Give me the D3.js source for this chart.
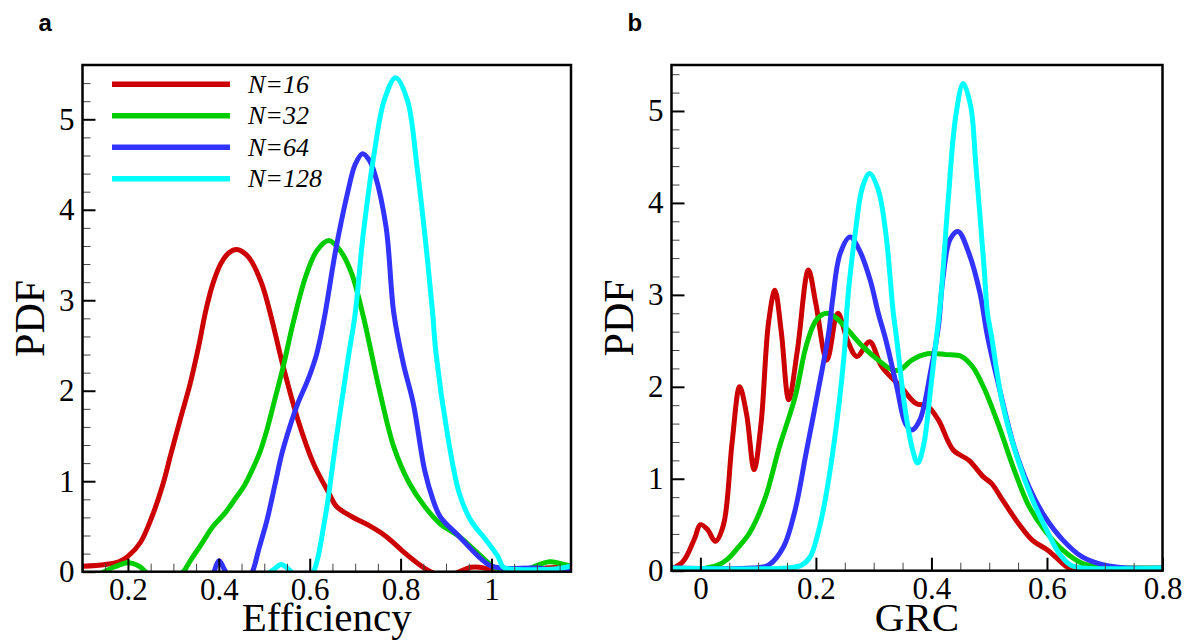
<!DOCTYPE html>
<html>
<head>
<meta charset="utf-8">
<script src="https://cdn.jsdelivr.net/npm/d3@7"></script>
<style>
  body { margin: 0; background: #fff; }
  .tick text { font-family: "Liberation Serif", "Times New Roman", serif; font-size: 31px; fill: #000; }
</style>
</head>
<body>
<div id="chart"></div>
<script type="text/javascript">

// series names + colours
var seriesNames = ["N=16", "N=32", "N=64", "N=128"];
var seriesColors = ["#cc0000", "#00cc00", "#3333ff", "#00ffff"];

// panel a : Efficiency pdf, [efficiency, pdf]
var eff16 = [[0.1,0.06],[0.15,0.08],[0.18,0.11],[0.2,0.17],[0.227,0.32],[0.253,0.61],[0.276,0.95],[0.295,1.31],[0.316,1.70],[0.337,2.08],[0.356,2.5],[0.372,2.9],[0.388,3.2],[0.405,3.41],[0.421,3.52],[0.439,3.56],[0.454,3.53],[0.468,3.46],[0.494,3.19],[0.515,2.82],[0.54,2.30],[0.574,1.68],[0.608,1.20],[0.642,0.87],[0.659,0.72],[0.692,0.61],[0.734,0.50],[0.768,0.39],[0.811,0.20],[0.841,0.08],[0.866,0.0],[0.9,-0.05],[0.93,0.0],[0.955,0.05],[0.985,0.04],[1.02,-0.03],[1.08,-0.03],[1.12,0.04],[1.175,0.04]];
var eff32 = [[0.13,-0.05],[0.16,0.03],[0.2,0.1],[0.225,0.06],[0.25,-0.05],[0.3,-0.1],[0.322,0.0],[0.337,0.12],[0.361,0.3],[0.387,0.50],[0.414,0.65],[0.438,0.82],[0.456,0.95],[0.473,1.12],[0.491,1.33],[0.506,1.57],[0.523,1.9],[0.54,2.23],[0.565,2.78],[0.591,3.26],[0.616,3.55],[0.642,3.66],[0.667,3.55],[0.692,3.30],[0.718,2.82],[0.752,2.04],[0.785,1.38],[0.819,0.98],[0.853,0.72],[0.887,0.53],[0.929,0.39],[0.971,0.20],[1.005,0.05],[1.04,-0.02],[1.08,0.03],[1.128,0.11],[1.16,0.08],[1.175,0.06]];
var eff64 = [[0.385,-0.1],[0.4,0.12],[0.415,0.0],[0.43,-0.1],[0.46,-0.1],[0.474,0.0],[0.488,0.25],[0.506,0.57],[0.523,0.95],[0.539,1.31],[0.556,1.6],[0.573,1.85],[0.596,2.12],[0.615,2.4],[0.632,2.80],[0.657,3.55],[0.683,4.18],[0.7,4.5],[0.716,4.62],[0.731,4.55],[0.743,4.40],[0.768,3.81],[0.785,2.86],[0.806,2.3],[0.828,1.86],[0.853,1.12],[0.871,0.8],[0.887,0.61],[0.929,0.39],[0.971,0.17],[0.996,0.07],[1.02,0.04],[1.1,0.04],[1.13,0.02],[1.175,0.02]];
var eff128 = [[0.5,-0.05],[0.52,0.02],[0.537,0.08],[0.555,0.02],[0.572,-0.05],[0.595,-0.05],[0.608,0.0],[0.633,0.57],[0.659,1.49],[0.684,2.34],[0.7,2.85],[0.718,3.74],[0.743,4.66],[0.764,5.21],[0.789,5.46],[0.815,5.21],[0.836,4.48],[0.853,3.74],[0.87,2.89],[0.878,2.41],[0.904,1.49],[0.929,0.87],[0.954,0.57],[0.988,0.35],[1.014,0.17],[1.026,0.05],[1.04,0.03],[1.14,0.03],[1.175,0.06]];

// panel b : GRC pdf, [grc, pdf]
var grc16 = [[-0.05,0.02],[-0.03,0.1],[-0.01,0.35],[0.0,0.5],[0.012,0.45],[0.026,0.32],[0.04,0.5],[0.055,1.4],[0.068,2.0],[0.08,1.7],[0.093,1.1],[0.105,1.6],[0.118,2.7],[0.129,3.05],[0.14,2.6],[0.153,1.86],[0.168,2.4],[0.187,3.27],[0.2,2.9],[0.219,2.29],[0.238,2.8],[0.255,2.5],[0.271,2.33],[0.293,2.49],[0.314,2.22],[0.347,2.0],[0.373,1.82],[0.393,1.79],[0.412,1.64],[0.438,1.31],[0.465,1.20],[0.49,1.02],[0.504,0.95],[0.523,0.77],[0.55,0.52],[0.575,0.33],[0.602,0.22],[0.635,0.04],[0.65,0.0],[0.7,-0.05],[0.8,-0.05]];
var grc32 = [[-0.05,0.02],[0.0,0.02],[0.03,0.06],[0.046,0.12],[0.065,0.25],[0.085,0.41],[0.111,0.77],[0.137,1.35],[0.164,1.89],[0.183,2.44],[0.2,2.72],[0.218,2.8],[0.235,2.75],[0.255,2.62],[0.281,2.44],[0.308,2.29],[0.334,2.18],[0.347,2.19],[0.366,2.29],[0.393,2.36],[0.425,2.35],[0.452,2.33],[0.471,2.22],[0.49,2.0],[0.517,1.57],[0.543,1.10],[0.569,0.70],[0.596,0.44],[0.628,0.22],[0.661,0.08],[0.694,0.04],[0.75,0.03],[0.8,0.03]];
var grc64 = [[-0.05,0.03],[0.09,0.03],[0.118,0.06],[0.144,0.26],[0.164,0.66],[0.183,1.28],[0.203,1.93],[0.222,2.58],[0.229,2.95],[0.242,3.45],[0.259,3.63],[0.275,3.49],[0.294,3.16],[0.308,2.80],[0.321,2.51],[0.34,2.0],[0.355,1.6],[0.366,1.53],[0.38,1.64],[0.399,2.18],[0.412,2.65],[0.419,3.13],[0.432,3.60],[0.446,3.69],[0.465,3.45],[0.484,3.02],[0.497,2.55],[0.517,2.0],[0.543,1.35],[0.569,0.91],[0.596,0.59],[0.628,0.33],[0.661,0.15],[0.7,0.06],[0.739,0.03],[0.8,0.03]];
var grc128 = [[-0.05,0.03],[0.15,0.03],[0.175,0.06],[0.19,0.15],[0.209,0.55],[0.229,1.28],[0.249,2.36],[0.255,2.95],[0.268,3.67],[0.281,4.18],[0.293,4.32],[0.308,4.14],[0.321,3.67],[0.334,2.80],[0.34,2.51],[0.353,1.82],[0.366,1.35],[0.376,1.17],[0.386,1.35],[0.399,2.0],[0.409,2.55],[0.416,2.95],[0.429,4.03],[0.442,4.94],[0.455,5.30],[0.468,5.05],[0.477,4.40],[0.491,3.31],[0.497,2.80],[0.504,2.55],[0.523,1.82],[0.55,1.20],[0.575,0.77],[0.602,0.41],[0.621,0.19],[0.641,0.06],[0.661,0.03],[0.8,0.03]];

// tick values
var effTicks = [0.2, 0.4, 0.6, 0.8, 1];
var effMinor = [0.1, 0.15, 0.25, 0.3, 0.35, 0.45, 0.5, 0.55, 0.65, 0.7, 0.75, 0.85, 0.9, 0.95, 1.05, 1.1, 1.15];
var grcTicks = [0, 0.2, 0.4, 0.6, 0.8];
var grcMinor = [-0.05, 0.05, 0.1, 0.15, 0.25, 0.3, 0.35, 0.45, 0.5, 0.55, 0.65, 0.7, 0.75];
var pdfTicks = [0, 1, 2, 3, 4, 5];
var pdfMinorA = [0.2,0.4,0.6,0.8,1.2,1.4,1.6,1.8,2.2,2.4,2.6,2.8,3.2,3.4,3.6,3.8,4.2,4.4,4.6,4.8,5.2,5.4];
var pdfMinorB = [0.2,0.4,0.6,0.8,1.2,1.4,1.6,1.8,2.2,2.4,2.6,2.8,3.2,3.4,3.6,3.8,4.2,4.4,4.6,4.8,5.2,5.4];

var svg = d3.select("#chart").append("svg")
    .attr("width", 1184)
    .attr("height", 641);

var serif = "'Liberation Serif', 'Times New Roman', serif";
var fmt = d3.format("~g");

function drawPanel(p) {
  var x = d3.scaleLinear().domain(p.xDomain).range([p.left, p.right]);
  var y = d3.scaleLinear().domain(p.yDomain).range([p.bottom, p.top]);

  var g = svg.append("g");

  // clip lines to the plot box (curves dip below 0)
  g.append("clipPath").attr("id", "clip" + p.id)
    .append("rect")
      .attr("x", p.left).attr("y", p.top)
      .attr("width", p.right - p.left).attr("height", p.bottom - p.top);

  var line = d3.line()
      .x(function(d) { return x(d[0]); })
      .y(function(d) { return y(d[1]); })
      .curve(d3.curveCatmullRom.alpha(0.5));

  p.series.forEach(function(s, i) {
    g.append("path")
        .datum(s)
        .attr("clip-path", "url(#clip" + p.id + ")")
        .attr("fill", "none")
        .attr("stroke", seriesColors[i])
        .attr("stroke-width", 5)
        .attr("stroke-linejoin", "round")
        .attr("d", line);
  });

  // minor ticks
  g.append("g")
      .attr("transform", "translate(0," + p.bottom + ")")
      .call(d3.axisBottom(x).tickValues(p.xMinor).tickSize(-8).tickFormat(""))
      .call(function(a) { a.select(".domain").remove(); a.selectAll("line").attr("stroke", "#444").attr("stroke-width", 1); });
  g.append("g")
      .attr("transform", "translate(" + p.left + ",0)")
      .call(d3.axisLeft(y).tickValues(p.yMinor).tickSize(-8).tickFormat(""))
      .call(function(a) { a.select(".domain").remove(); a.selectAll("line").attr("stroke", "#444").attr("stroke-width", 1); });

  // major ticks + labels
  g.append("g")
      .attr("transform", "translate(0," + p.bottom + ")")
      .call(d3.axisBottom(x).tickValues(p.xTicks).tickSize(-13).tickPadding(6).tickFormat(fmt))
      .call(function(a) { a.select(".domain").remove(); a.selectAll("line").attr("stroke", "#000").attr("stroke-width", 2); });
  g.append("g")
      .attr("transform", "translate(" + p.left + ",0)")
      .call(d3.axisLeft(y).tickValues(pdfTicks).tickSize(-13).tickPadding(8).tickFormat(fmt))
      .call(function(a) { a.select(".domain").remove(); a.selectAll("line").attr("stroke", "#000").attr("stroke-width", 2); });

  // frame
  g.append("rect")
      .attr("x", p.left).attr("y", p.top)
      .attr("width", p.right - p.left).attr("height", p.bottom - p.top)
      .attr("fill", "none")
      .attr("stroke", "#000")
      .attr("stroke-width", 2.5);

  // axis titles
  g.append("text")
      .attr("x", (p.left + p.right) / 2).attr("y", 631)
      .attr("text-anchor", "middle")
      .style("font-family", serif).style("font-size", "41px")
      .text(p.xTitle);
  g.append("text")
      .attr("transform", "translate(" + (p.left - 39) + "," + ((p.top + p.bottom) / 2) + ") rotate(-90)")
      .attr("text-anchor", "middle")
      .style("font-family", serif).style("font-size", "42px")
      .text("PDF");

  // panel letter
  g.append("text")
      .attr("x", p.left - 44).attr("y", 31)
      .style("font-family", "'Liberation Sans', Arial, sans-serif")
      .style("font-weight", "bold").style("font-size", "24px")
      .text(p.id);

  return {x: x, y: y, g: g};
}

var panelA = drawPanel({
  id: "a", left: 82.5, right: 571, top: 65, bottom: 571.7,
  xDomain: [0.1, 1.175], yDomain: [0, 5.6],
  xTicks: effTicks, xMinor: effMinor, yMinor: pdfMinorA,
  series: [eff16, eff32, eff64, eff128], xTitle: "Efficiency"
});

var panelB = drawPanel({
  id: "b", left: 671.5, right: 1162.5, top: 65, bottom: 570.7,
  xDomain: [-0.05, 0.8], yDomain: [0, 5.5],
  xTicks: grcTicks, xMinor: grcMinor, yMinor: pdfMinorB,
  series: [grc16, grc32, grc64, grc128], xTitle: "GRC"
});

// legend in panel a
var legend = svg.append("g");
seriesNames.forEach(function(name, i) {
  var ly = 84.3 + i * 31.5;
  legend.append("line")
      .attr("x1", 112).attr("x2", 230)
      .attr("y1", ly).attr("y2", ly)
      .attr("stroke", seriesColors[i])
      .attr("stroke-width", 5.5);
  legend.append("text")
      .attr("x", 248).attr("y", ly + 8.5)
      .style("font-family", serif).style("font-style", "italic").style("font-size", "26px")
      .text(name);
});
</script>
</body>
</html>
